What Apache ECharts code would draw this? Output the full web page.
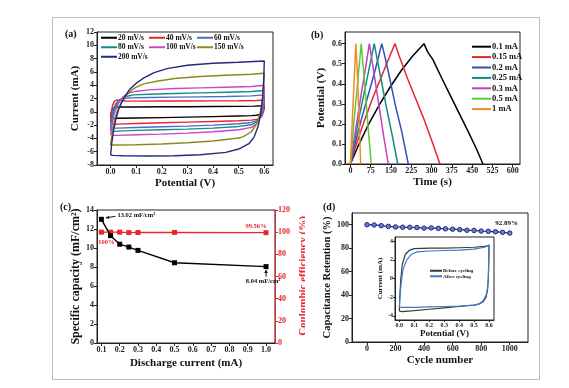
<!DOCTYPE html>
<html><head><meta charset="utf-8">
<script src="https://cdn.jsdelivr.net/npm/echarts@6/dist/echarts.min.js"></script>
<style>html,body{margin:0;padding:0;background:#fff}#c{width:569px;height:388px}</style>
</head><body><div id="c"></div>
<script>
// ---------- Panel (a): CV curves [V, mA] ----------
const cvNames = ['20 mV/s','40 mV/s','60 mV/s','80 mV/s','100 mV/s','150 mV/s','200 mV/s'];
const cv20 = [[0,-0.9],[0.002,-0.2],[0.006,0.35],[0.015,0.62],[0.03,0.72],[0.1,0.73],[0.2,0.75],[0.3,0.77],[0.4,0.79],[0.5,0.82],[0.56,0.86],[0.59,0.92],[0.6,1.0],[0.6,0.6],[0.595,0.0],[0.585,-0.35],[0.57,-0.52],[0.55,-0.58],[0.5,-0.63],[0.4,-0.72],[0.3,-0.8],[0.2,-0.87],[0.1,-0.93],[0.03,-0.98],[0.01,-1.0],[0,-0.9]];
const cv40 = [[0,-1.5],[0.003,0],[0.008,1.0],[0.015,1.6],[0.025,1.8],[0.04,1.72],[0.06,1.62],[0.1,1.6],[0.2,1.62],[0.3,1.63],[0.4,1.65],[0.5,1.67],[0.57,1.7],[0.6,1.78],[0.6,1.0],[0.597,0],[0.59,-0.7],[0.575,-1.1],[0.55,-1.25],[0.5,-1.35],[0.4,-1.45],[0.3,-1.55],[0.2,-1.65],[0.1,-1.75],[0.03,-1.85],[0.01,-1.9],[0,-1.5]];
const cv60 = [[0,-2.3],[0.004,-1.0],[0.01,0.3],[0.02,1.2],[0.035,1.8],[0.05,2.0],[0.08,2.1],[0.15,2.15],[0.25,2.2],[0.35,2.25],[0.45,2.3],[0.55,2.4],[0.6,2.55],[0.6,1.8],[0.597,0.5],[0.59,-0.6],[0.575,-1.3],[0.55,-1.6],[0.5,-1.8],[0.4,-2.0],[0.3,-2.15],[0.2,-2.25],[0.1,-2.35],[0.03,-2.45],[0.01,-2.45],[0,-2.3]];
const cv80 = [[0,-2.8],[0.005,-1.4],[0.012,0],[0.025,1.2],[0.04,1.9],[0.06,2.3],[0.09,2.55],[0.15,2.65],[0.25,2.75],[0.35,2.85],[0.45,2.95],[0.55,3.05],[0.6,3.2],[0.6,2.4],[0.596,1.0],[0.588,-0.5],[0.57,-1.5],[0.55,-1.95],[0.5,-2.2],[0.4,-2.45],[0.3,-2.6],[0.2,-2.7],[0.1,-2.8],[0.03,-2.9],[0.01,-2.95],[0,-2.8]];
const cv100 = [[0,-3.4],[0.006,-1.8],[0.014,-0.3],[0.03,1.3],[0.05,2.3],[0.07,2.8],[0.1,3.1],[0.15,3.3],[0.25,3.5],[0.35,3.6],[0.45,3.7],[0.55,3.8],[0.6,4.0],[0.6,3.0],[0.595,1.2],[0.587,-0.5],[0.57,-1.8],[0.55,-2.35],[0.5,-2.7],[0.4,-3.0],[0.3,-3.2],[0.2,-3.35],[0.1,-3.45],[0.03,-3.55],[0.01,-3.55],[0,-3.4]];
const cv150 = [[0,-5.0],[0.006,-3.2],[0.014,-1.5],[0.025,0],[0.04,1.3],[0.056,2.3],[0.08,3.2],[0.1,3.7],[0.13,4.2],[0.18,4.6],[0.25,5.0],[0.35,5.3],[0.45,5.5],[0.55,5.65],[0.6,5.8],[0.598,4.0],[0.593,2.0],[0.585,0],[0.57,-1.8],[0.55,-3.0],[0.52,-3.7],[0.5,-3.95],[0.4,-4.4],[0.3,-4.65],[0.2,-4.85],[0.1,-4.95],[0.03,-5.0],[0,-5.0]];
const cv200 = [[0,-6.5],[0.005,-4.6],[0.012,-2.7],[0.02,-1.2],[0.03,0.2],[0.042,1.3],[0.056,2.3],[0.075,3.4],[0.1,4.3],[0.13,5.1],[0.17,5.9],[0.22,6.5],[0.3,7.0],[0.4,7.3],[0.5,7.45],[0.6,7.65],[0.598,5.0],[0.593,2.0],[0.585,-0.5],[0.575,-2.3],[0.56,-3.8],[0.54,-4.8],[0.5,-5.6],[0.45,-6.1],[0.35,-6.45],[0.25,-6.6],[0.15,-6.65],[0.05,-6.6],[0.01,-6.55],[0,-6.5]];
const cvData = [cv20, cv40, cv60, cv80, cv100, cv150, cv200];
const cvColors = ['#000000','#e8262a','#4a6cc8','#178a8a','#cc44cc','#8a8a1e','#26287e'];

// ---------- Panel (b): GCD curves [s, V] ----------
const gcdNames = ['0.1 mA','0.15 mA','0.2 mA','0.25 mA','0.3 mA','0.5 mA','1 mA'];
const gcd01 = [[0,0],[27,0.085],[68,0.2],[109,0.3],[150,0.39],[190,0.47],[231,0.54],[272,0.6],[285,0.56],[305,0.52],[337,0.43],[370,0.34],[403,0.25],[436,0.16],[468,0.07],[490,0]];
const gcd015 = [[0,0],[20,0.09],[50,0.21],[80,0.32],[110,0.42],[140,0.52],[165,0.6],[180,0.54],[210,0.43],[240,0.33],[270,0.23],[300,0.12],[331,0]];
const gcd02 = [[0,0],[15,0.09],[40,0.22],[65,0.34],[90,0.46],[116,0.6],[125,0.55],[145,0.43],[165,0.3],[190,0.16],[214,0]];
const gcd025 = [[0,0],[12,0.09],[30,0.22],[50,0.35],[70,0.48],[88,0.6],[95,0.55],[115,0.41],[135,0.27],[155,0.14],[175,0]];
const gcd03 = [[0,0],[10,0.09],[25,0.22],[40,0.35],[55,0.47],[70,0.6],[76,0.55],[92,0.41],[108,0.27],[124,0.13],[140,0]];
const gcd05 = [[0,0],[5,0.08],[15,0.24],[25,0.38],[40,0.6],[45,0.52],[55,0.36],[65,0.19],[77,0]];
const gcd1 = [[0,0],[7,0.22],[14,0.42],[20,0.6],[25,0.48],[31,0.27],[38,0]];
const gcdData = [gcd01, gcd015, gcd02, gcd025, gcd03, gcd05, gcd1];
const gcdColors = ['#000000','#e8262a','#3050b8','#138a86','#c040c0','#5cc83c','#f08a24'];

// ---------- Panel (c) ----------
const dischargeCurrent = [0.1, 0.15, 0.2, 0.25, 0.3, 0.5, 1.0];
const specificCapacity = [13.02, 11.3, 10.4, 10.1, 9.75, 8.45, 8.04];
const coulombicEff = [100, 100, 100, 99.6, 99.7, 99.8, 99.56];

// ---------- Panel (d) ----------
const cycles = [0,50,100,150,200,250,300,350,400,450,500,550,600,650,700,750,800,850,900,950,1000];
const retention = [100,99.8,99.2,98.6,98.1,97.9,97.8,97.6,97.1,97.3,96.9,96.5,96.2,95.8,95.3,95.1,94.6,94.4,94.0,93.5,92.89];
const insetBefore = [[0,-3.5],[0.003,-2],[0.01,0],[0.02,1.5],[0.04,2.6],[0.07,3.05],[0.1,3.2],[0.2,3.25],[0.3,3.25],[0.4,3.3],[0.5,3.35],[0.57,3.45],[0.6,3.55],[0.598,2],[0.595,0],[0.59,-1.2],[0.58,-2.0],[0.56,-2.5],[0.53,-2.75],[0.5,-2.85],[0.4,-3.0],[0.3,-3.15],[0.2,-3.3],[0.1,-3.45],[0.02,-3.55],[0,-3.5]];
const insetAfter = [[0,-3.1],[0.004,-2],[0.012,-0.5],[0.025,1],[0.05,2.0],[0.08,2.6],[0.12,2.85],[0.2,2.95],[0.3,3.0],[0.4,3.05],[0.5,3.15],[0.57,3.35],[0.6,3.6],[0.598,2],[0.595,0],[0.59,-1.0],[0.58,-1.8],[0.56,-2.4],[0.53,-2.75],[0.5,-2.85],[0.4,-2.95],[0.3,-3.0],[0.2,-3.05],[0.1,-3.1],[0.02,-3.1],[0,-3.1]];

// tick values
const ticksA_x = [0,0.1,0.2,0.3,0.4,0.5,0.6];
const ticksB_x = [0,75,150,225,300,375,450,525,600];
const ticksB_y = [0,0.1,0.2,0.3,0.4,0.5,0.6];
const ticksC_x = [0.1,0.2,0.3,0.4,0.5,0.6,0.7,0.8,0.9,1.0];
const ticksD_x = [0,200,400,600,800,1000];
const ticksD_y = [0,20,40,60,80,100];
const ticksI_y = [-4,-2,0,2,4];

const FONT = '"Liberation Serif","Times New Roman",serif';
const RED = '#e8262a';
const AX = '#222';

function axisBase(o) {
  const color = o.color || AX;
  const a = {
    type: 'value', gridIndex: o.grid, min: o.min, max: o.max, position: o.position,
    splitLine: {show: false},
    axisLine: {show: true, onZero: false, lineStyle: {color: color, width: 1}},
    axisTick: {show: true, inside: false, length: o.tickLen || 3, lineStyle: {color: color}},
    axisLabel: {show: true, color: color, fontFamily: FONT, fontWeight: 'bold', fontSize: o.fs || 8, margin: o.margin || 3,
      formatter: o.fmt || (v => String(v))},
    name: o.name, nameLocation: 'middle', nameGap: o.nameGap,
    nameTextStyle: {fontFamily: FONT, fontWeight: 'bold', fontSize: o.nfs || 11, color: o.ncolor || '#111'}
  };
  if (o.interval !== undefined) a.interval = o.interval;
  if (o.custom) { a.axisLabel.customValues = o.custom; a.axisTick.customValues = o.custom; }
  return a;
}
const f1 = v => v.toFixed(1);

const grids = [
  {left: 97, top: 32, width: 176, height: 133},
  {left: 345, top: 32, width: 175, height: 132},
  {left: 97, top: 210, width: 178, height: 133},
  {left: 352, top: 213, width: 176, height: 129},
  {left: 395, top: 237, width: 99, height: 83, backgroundColor: '#fff'}
].map(g => Object.assign({show: true, borderColor: AX, borderWidth: 1, containLabel: false}, g));

const xAxis = [
  axisBase({grid: 0, min: -0.053, max: 0.634, custom: ticksA_x, fmt: f1, name: 'Potential (V)', nameGap: 13}),
  axisBase({grid: 1, min: -20, max: 627, custom: ticksB_x, name: 'Time (s)', nameGap: 13}),
  axisBase({grid: 2, min: 0.076, max: 1.049, custom: ticksC_x, fmt: f1, name: 'Discharge current (mA)', nameGap: 15}),
  axisBase({grid: 3, min: -105, max: 1128, custom: ticksD_x, name: 'Cycle number', nameGap: 13}),
  axisBase({grid: 4, min: -0.029, max: 0.633, custom: ticksA_x, fmt: f1, fs: 6, tickLen: 2, margin: 2, name: 'Potential (V)', nameGap: 7, nfs: 9})
];
const yAxis = [
  axisBase({grid: 0, min: -8, max: 12, interval: 2, name: 'Current (mA)', nameGap: 16}),
  axisBase({grid: 1, min: 0, max: 0.658, custom: ticksB_y, fmt: f1, name: 'Potential (V)', nameGap: 18}),
  axisBase({grid: 2, min: 0, max: 14, interval: 2, name: 'Specific capacity (mF/cm²)', nameGap: 15, nfs: 12}),
  axisBase({grid: 2, min: 0, max: 120, interval: 20, position: 'right', color: RED}),
  axisBase({grid: 3, min: 0, max: 110, custom: ticksD_y, name: 'Capacitance Retention (%)', nameGap: 17, nfs: 10.5}),
  axisBase({grid: 4, min: -4.45, max: 4.45, custom: ticksI_y, fs: 6, tickLen: 2, margin: 2, name: 'Current (mA)', nameGap: 10, nfs: 7})
];

const series = [];
cvData.forEach((d, i) => series.push({
  type: 'line', name: cvNames[i], xAxisIndex: 0, yAxisIndex: 0, data: d, showSymbol: false,
  color: cvColors[i], lineStyle: {width: 1.4, color: cvColors[i]}, z: 2 + i
}));
gcdData.forEach((d, i) => series.push({
  type: 'line', name: gcdNames[i], xAxisIndex: 1, yAxisIndex: 1, data: d, showSymbol: false,
  color: gcdColors[i], lineStyle: {width: 1.5, color: gcdColors[i]}
}));
series.push({
  type: 'line', name: 'cap', xAxisIndex: 2, yAxisIndex: 2,
  data: dischargeCurrent.map((x, i) => [x, specificCapacity[i]]),
  symbol: 'rect', symbolSize: 5, color: '#000', lineStyle: {width: 1.4, color: '#000'}, z: 5
});
series.push({
  type: 'line', name: 'ce', xAxisIndex: 2, yAxisIndex: 3,
  data: dischargeCurrent.map((x, i) => [x, coulombicEff[i]]),
  symbol: 'rect', symbolSize: 5, color: RED, lineStyle: {width: 1.4, color: RED}, z: 4
});
series.push({
  type: 'line', name: 'ret', xAxisIndex: 3, yAxisIndex: 4,
  data: cycles.map((x, i) => [x, retention[i]]),
  symbol: 'circle', symbolSize: 4.5, color: '#1f2d7a',
  itemStyle: {color: '#6a7cd0', borderColor: '#1f2d7a', borderWidth: 1},
  lineStyle: {width: 1.3, color: '#1f2d7a'}
});
series.push({
  type: 'line', name: 'Before cycling', xAxisIndex: 4, yAxisIndex: 5, data: insetBefore, showSymbol: false,
  color: '#3a3a3a', lineStyle: {width: 1.2, color: '#3a3a3a'}
});
series.push({
  type: 'line', name: 'After cycling', xAxisIndex: 4, yAxisIndex: 5, data: insetAfter, showSymbol: false,
  color: '#3a7cc8', lineStyle: {width: 1.2, color: '#3a7cc8'}
});

function leg(data, left, top, fs, lh, iw) {
  return {
    data: data, left: left, top: top, orient: 'vertical', icon: 'rect', itemWidth: iw, itemHeight: 2,
    itemGap: 0, padding: 0, selectedMode: false,
    textStyle: {fontFamily: FONT, fontWeight: 'bold', fontSize: fs, lineHeight: lh, color: '#111', padding: [0, 0, 0, -4]}
  };
}
const legend = [
  leg(['20 mV/s','80 mV/s','200 mV/s'], 101, 33, 7.5, 9.5, 16),
  leg(['40 mV/s','100 mV/s'], 149, 33, 7.5, 9.5, 16),
  leg(['60 mV/s','150 mV/s'], 197, 33, 7.5, 9.5, 16),
  leg(gcdNames, 472, 41.5, 8.5, 10.4, 19),
  leg(['Before cycling','After cycling'], 430, 268, 5, 5.5, 12)
];

function txt(text, x, y, o) {
  o = o || {};
  return {type: 'text', x: x, y: y, rotation: o.rot || 0, z: o.z || 50,
    style: {text: text, fill: o.color || '#111', font: 'bold ' + (o.fs || 10) + 'px ' + FONT,
      textAlign: o.align || 'left', textVerticalAlign: 'middle', align: o.align || 'left', verticalAlign: 'middle'}};
}

const chart = echarts.init(document.getElementById('c'), null, {renderer: 'canvas'});
chart.setOption({
  animation: false, backgroundColor: '#fff',
  grid: grids, xAxis: xAxis, yAxis: yAxis, series: series, legend: legend
});

// annotations positioned through the axes
const pA = chart.convertToPixel({xAxisIndex: 2, yAxisIndex: 2}, [dischargeCurrent[0], specificCapacity[0]]);
const pB = chart.convertToPixel({xAxisIndex: 2, yAxisIndex: 2}, [dischargeCurrent[6], specificCapacity[6]]);
const pC = chart.convertToPixel({xAxisIndex: 2, yAxisIndex: 3}, [dischargeCurrent[0], coulombicEff[0]]);
const pD = chart.convertToPixel({xAxisIndex: 2, yAxisIndex: 3}, [dischargeCurrent[6], coulombicEff[6]]);
const pE = chart.convertToPixel({xAxisIndex: 3, yAxisIndex: 4}, [cycles[20], retention[20]]);

const graphic = [
  {type: 'rect', shape: {x: 52.5, y: 17.5, width: 487, height: 362}, style: {fill: 'none', stroke: '#bbb', lineWidth: 1}, z: 0, silent: true},
  txt('(a)', 65, 34, {fs: 10}),
  txt('(b)', 311, 35, {fs: 10}),
  txt('(c)', 60, 207, {fs: 10}),
  txt('(d)', 323, 207, {fs: 10}),
  txt('Coulombic efficiency (%)', 303, 276, {rot: Math.PI / 2, align: 'center', color: RED, fs: 11, z: 40}),
  {type: 'rect', shape: {x: 305, y: 200, width: 13, height: 150}, style: {fill: '#fff'}, z: 45, silent: true},
  // arrow to 13.02
  {type: 'line', shape: {x1: pA[0] + 14, y1: pA[1] - 3, x2: pA[0] + 5, y2: pA[1] - 1.5}, style: {stroke: '#111', lineWidth: 1}, z: 50},
  {type: 'polygon', shape: {points: [[pA[0] + 4, pA[1] - 1.3], [pA[0] + 7.5, pA[1] - 3.5], [pA[0] + 8, pA[1] - 0.5]]}, style: {fill: '#111'}, z: 50},
  txt('13.02 mF/cm²', pA[0] + 16, pA[1] - 4, {fs: 6.5}),
  // arrow to 8.04
  {type: 'line', shape: {x1: pB[0], y1: pB[1] + 10, x2: pB[0], y2: pB[1] + 4}, style: {stroke: '#111', lineWidth: 1}, z: 50},
  {type: 'polygon', shape: {points: [[pB[0], pB[1] + 3], [pB[0] - 1.8, pB[1] + 6.5], [pB[0] + 1.8, pB[1] + 6.5]]}, style: {fill: '#111'}, z: 50},
  txt('8.04 mF/cm²', pB[0] - 3, pB[1] + 15, {fs: 6.5, align: 'center'}),
  txt('100%', pC[0] + 5, pC[1] + 10, {fs: 6.5, align: 'center', color: RED}),
  txt('99.56%', pD[0] - 10, pD[1] - 6, {fs: 6.5, align: 'center', color: RED}),
  txt('92.89%', pE[0] - 3, pE[1] - 10, {fs: 7, align: 'center'})
];
chart.setOption({graphic: graphic});
</script>
</body></html>
